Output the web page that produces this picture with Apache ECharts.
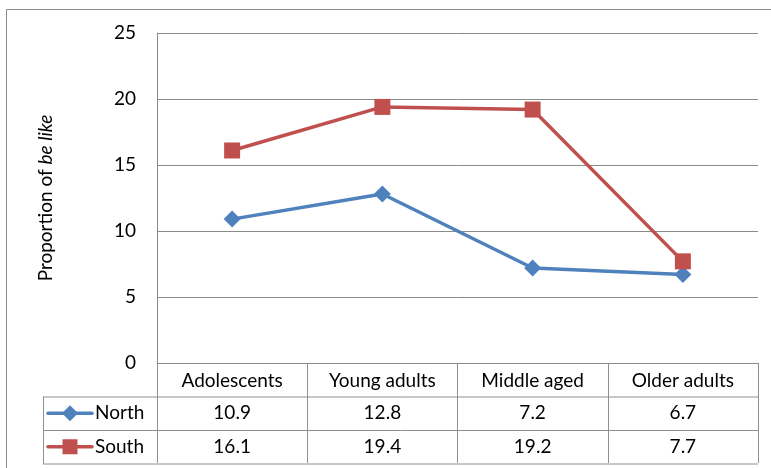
<!DOCTYPE html>
<html>
<head>
<meta charset="utf-8">
<script src="https://cdn.jsdelivr.net/npm/echarts@6/dist/echarts.min.js"></script>
<style>
  html, body { margin: 0; padding: 0; background: #fff; }
  #chart { width: 771px; height: 468px; }
</style>
</head>
<body>
<div id="chart"></div>
<script>
// Age groups and "be like" proportions by region
const categories = ['Adolescents', 'Young adults', 'Middle aged', 'Older adults'];
const northValues = [10.9, 12.8, 7.2, 6.7];
const southValues = [16.1, 19.4, 19.2, 7.7];
const seriesNames = ['North', 'South'];
const yTicks = [0, 5, 10, 15, 20, 25];

const FONT = 'Lato, "Open Sans", sans-serif';
const FS = 19;
const GRID_COLOR = '#8a8a8a';
const TABLE_COLOR = '#8f8f8f';
const NORTH_COLOR = '#4F81BD';
const SOUTH_COLOR = '#C0504D';

const chart = echarts.init(document.getElementById('chart'), null, { renderer: 'canvas' });

const GRID = { left: 157, right: 13, top: 33, bottom: 105 };

chart.setOption({
  animation: false,
  backgroundColor: '#fff',
  textStyle: { fontFamily: FONT },
  grid: GRID,
  xAxis: {
    type: 'category',
    data: categories,
    boundaryGap: true,
    axisLine: { show: true, lineStyle: { color: GRID_COLOR, width: 1 } },
    axisTick: { show: true, length: 100, lineStyle: { color: TABLE_COLOR, width: 1 } },
    axisLabel: { margin: 8, color: '#000', fontSize: FS, fontFamily: FONT },
    splitLine: { show: false }
  },
  yAxis: {
    type: 'value',
    min: yTicks[0],
    max: yTicks[yTicks.length - 1],
    interval: 5,
    axisLine: { show: true, lineStyle: { color: GRID_COLOR, width: 1 } },
    axisTick: { show: false },
    axisLabel: { margin: 21, color: '#000', fontSize: FS, fontFamily: FONT },
    splitLine: { show: true, lineStyle: { color: GRID_COLOR, width: 1 } }
  },
  series: [
    {
      name: seriesNames[0],
      type: 'line',
      data: northValues,
      symbol: 'diamond',
      symbolSize: 17,
      lineStyle: { color: NORTH_COLOR, width: 3.5 },
      itemStyle: { color: NORTH_COLOR },
      z: 3
    },
    {
      name: seriesNames[1],
      type: 'line',
      data: southValues,
      symbol: 'rect',
      symbolSize: 16,
      lineStyle: { color: SOUTH_COLOR, width: 3.5 },
      itemStyle: { color: SOUTH_COLOR },
      z: 4
    }
  ]
});

// Data table under the plot, positioned from the category axis
function buildGraphics() {
  const W = 771, H = 468;
  const plotBottom = H - GRID.bottom;
  const plotRight = W - GRID.right;
  const rowH = 33.5;
  const row1Top = plotBottom + rowH;       // North row
  const row2Top = row1Top + rowH;          // South row
  const tableBottom = row2Top + rowH;
  const legendLeft = 43;
  const els = [];
  const line = (x1, y1, x2, y2) => ({
    type: 'line', silent: true,
    shape: { x1, y1, x2, y2 },
    style: { stroke: TABLE_COLOR, lineWidth: 1 }
  });

  // outer chart border (left and top)
  els.push({ type: 'line', silent: true, shape: { x1: 6.5, y1: 9.5, x2: 6.5, y2: H }, style: { stroke: '#8a8a8a', lineWidth: 1 } });
  els.push({ type: 'line', silent: true, shape: { x1: 6.5, y1: 9.5, x2: W, y2: 9.5 }, style: { stroke: '#8a8a8a', lineWidth: 1 } });

  // table rules
  els.push(line(legendLeft, row1Top + 0.5, plotRight, row1Top + 0.5));
  els.push(line(legendLeft, row2Top + 0.5, plotRight, row2Top + 0.5));
  els.push(line(legendLeft, tableBottom + 0.5, plotRight, tableBottom + 0.5));
  els.push(line(legendLeft + 0.5, row1Top, legendLeft + 0.5, tableBottom + 0.5));

  // legend keys + names
  const rows = [
    { name: seriesNames[0], values: northValues, color: NORTH_COLOR, symbol: 'diamond', top: row1Top },
    { name: seriesNames[1], values: southValues, color: SOUTH_COLOR, symbol: 'rect', top: row2Top }
  ];
  rows.forEach(r => {
    const cy = r.top + rowH / 2;
    els.push({
      type: 'line', silent: true,
      shape: { x1: 48, y1: cy, x2: 92, y2: cy },
      style: { stroke: r.color, lineWidth: 3.5, lineCap: 'round' }
    });
    if (r.symbol === 'diamond') {
      els.push({
        type: 'polygon', silent: true,
        shape: { points: [[70, cy - 8], [78, cy], [70, cy + 8], [62, cy]] },
        style: { fill: r.color }
      });
    } else {
      els.push({
        type: 'rect', silent: true,
        shape: { x: 62.5, y: cy - 7.5, width: 15, height: 15 },
        style: { fill: r.color }
      });
    }
    els.push({
      type: 'text', silent: true,
      style: {
        text: r.name, x: 95, y: cy, textVerticalAlign: 'middle',
        fill: '#000', font: FS + 'px ' + FONT
      }
    });
    r.values.forEach((v, i) => {
      const cx = chart.convertToPixel({ xAxisIndex: 0 }, categories[i]);
      els.push({
        type: 'text', silent: true,
        style: {
          text: String(v), x: cx, y: cy, textAlign: 'center', textVerticalAlign: 'middle',
          fill: '#000', font: FS + 'px ' + FONT
        }
      });
    });
  });

  // y-axis title with italic phrase
  els.push({
    type: 'text', silent: true,
    x: 46, y: (GRID.top + plotBottom) / 2,
    rotation: Math.PI / 2,
    style: {
      text: '{n|Proportion of }{i|be like}',
      textAlign: 'center', textVerticalAlign: 'middle',
      rich: {
        n: { font: FS + 'px ' + FONT, fill: '#000' },
        i: { font: 'italic ' + FS + 'px ' + FONT, fill: '#000' }
      }
    }
  });

  chart.setOption({ graphic: { elements: els } });
}
buildGraphics();
</script>
</body>
</html>
